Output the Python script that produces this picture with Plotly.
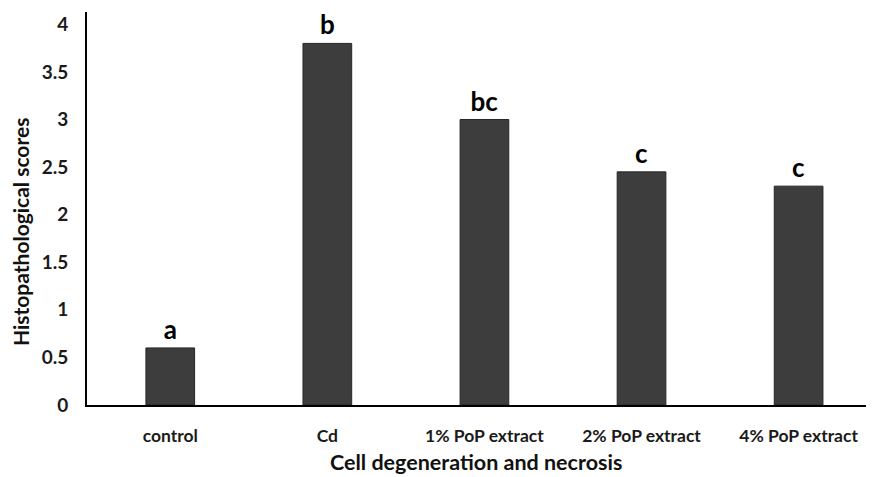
import plotly.graph_objects as go

categories = ["control", "Cd", "1% PoP extract", "2% PoP extract", "4% PoP extract"]
scores = [0.6, 3.8, 3.0, 2.45, 2.3]
letters = ["a", "b", "bc", "c", "c"]
y_ticks = [0, 0.5, 1, 1.5, 2, 2.5, 3, 3.5, 4]

FONT = "Lato, 'Open Sans', sans-serif"

fig = go.Figure(go.Bar(
    x=categories,
    y=scores,
    text=letters,
    textposition="outside",
    textfont=dict(family=FONT, size=26, color="#000000", weight="bold"),
    cliponaxis=False,
    width=0.31,
    marker=dict(color="#3d3d3d", line=dict(color="#262626", width=1)),
))

fig.update_layout(
    width=866, height=469,
    margin=dict(l=79, r=0, t=4, b=72),
    plot_bgcolor="white", paper_bgcolor="white",
    showlegend=False,
    font=dict(family=FONT, color="#1a1a1a"),
    annotations=[
        dict(text="Cell degeneration and necrosis", xref="paper", yref="paper",
             x=0.494, y=0, yshift=-57, xanchor="center", yanchor="middle",
             showarrow=False,
             font=dict(family=FONT, size=21.5, color="#111111", weight="bold")),
        dict(text="Histopathological scores", xref="paper", yref="paper",
             x=0, xshift=-67, y=0.44, xanchor="center", yanchor="middle",
             textangle=-90, showarrow=False,
             font=dict(family=FONT, size=21, color="#111111", weight="bold")),
    ],
)
fig.update_xaxes(
    range=[-0.53, 4.48],
    automargin=False,
    showline=True, linecolor="#000000", linewidth=2,
    showgrid=False, ticks="",
    tickfont=dict(family=FONT, size=17.5, color="#1a1a1a", weight="bold"),
    ticklabelstandoff=14,
)
fig.update_yaxes(
    range=[0, 4.13],
    automargin=False,
    tickvals=y_ticks,
    ticktext=[f"{v:g}" for v in y_ticks],
    showline=True, linecolor="#000000", linewidth=2,
    showgrid=False, zeroline=False, ticks="",
    tickfont=dict(family=FONT, size=19, color="#1a1a1a", weight="bold"),
    ticklabelstandoff=13,
)

fig.write_html("out.html")
